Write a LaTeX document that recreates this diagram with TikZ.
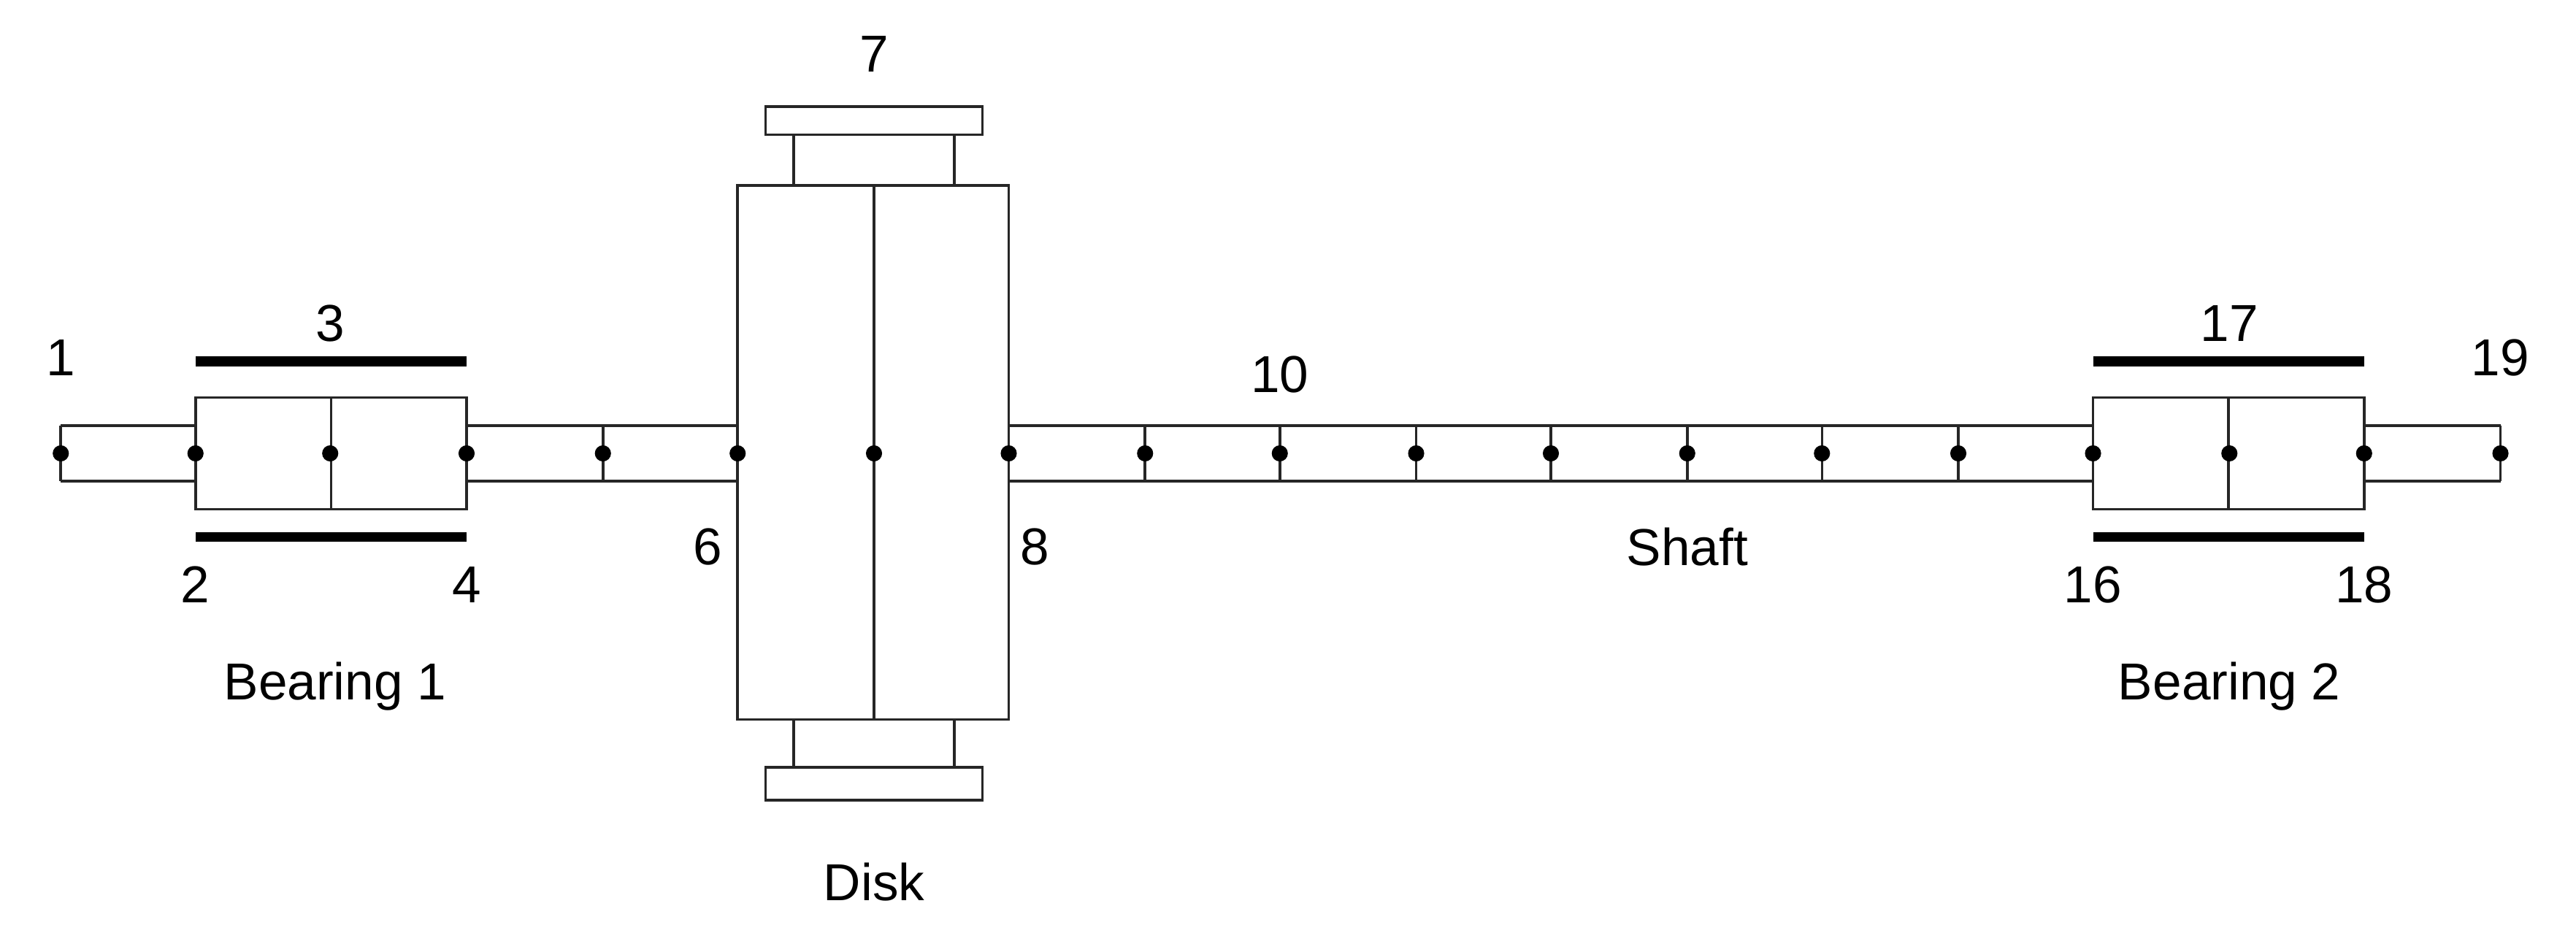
\documentclass[tikz,border=0pt]{standalone}
\usepackage{fontspec}
\setmainfont{Liberation Sans}
\begin{document}
\begin{tikzpicture}[x=0.02cm,y=-0.02cm,
  ln/.style={draw=black!85,line width=0.9pt},
  lbl/.style={font=\fontsize{18}{20}\selectfont},
  dot/.style={circle,fill=black,inner sep=0pt,minimum size=5.6pt}]
\useasboundingbox (0,0) rectangle (1568,563);
% shaft
\draw[ln] (37,259) -- (449,259) (37,293) -- (449,293);
\draw[ln] (614,259) -- (1522,259) (614,293) -- (1522,293);
\draw[ln] (37,259) -- (37,293) (1522,259) -- (1522,293);
\foreach \x in {367,697,779,862,944,1027,1109,1192}{\draw[ln] (\x,259) -- (\x,293);}
% bearings
\foreach \a in {119,1274}{
  \draw[ln,fill=white] (\a,242) rectangle ++(165,68);
  \draw[ln] (\a+82.5,242) -- (\a+82.5,310);
  \fill (\a,217) rectangle ++(165,6);
  \fill (\a,324) rectangle ++(165,6);
}
% disk
\draw[ln,fill=white] (449,113) rectangle (614,438);
\draw[ln] (532,113) -- (532,438);
\draw[ln] (483,82) rectangle (581,113);
\draw[ln] (466,65) rectangle (598,82);
\draw[ln] (483,438) rectangle (581,467);
\draw[ln] (466,467) rectangle (598,487);
% nodes
\foreach \x [count=\i] in {37,119,201,284,367,449,532,614,697,779,862,944,1027,1109,1192,1274,1357,1439,1522}{
  \node[dot] (n\i) at (\x,276) {};}
% labels
\node[lbl] (l1) at (37,218) {1};
\node[lbl] (l3) at (201,197) {3};
\node[lbl] (l2) at (119,356) {2};
\node[lbl] (l4) at (284,356) {4};
\node[lbl] (b1) at (204,418) {Bearing 1};
\node[lbl] (l6) at (431,333) {6};
\node[lbl] (l8) at (630,333) {8};
\node[lbl] (l7) at (532,33) {7};
\node[lbl] (l10) at (779,228) {10};
\node[lbl] (sh) at (1027,333) {Shaft};
\node[lbl] (l17) at (1357,197) {17};
\node[lbl] (l19) at (1522,218) {19};
\node[lbl] (l16) at (1274,356) {16};
\node[lbl] (l18) at (1439,356) {18};
\node[lbl] (b2) at (1357,418) {Bearing 2};
\node[lbl] (dk) at (532,537) {Disk};
\end{tikzpicture}
\end{document}
